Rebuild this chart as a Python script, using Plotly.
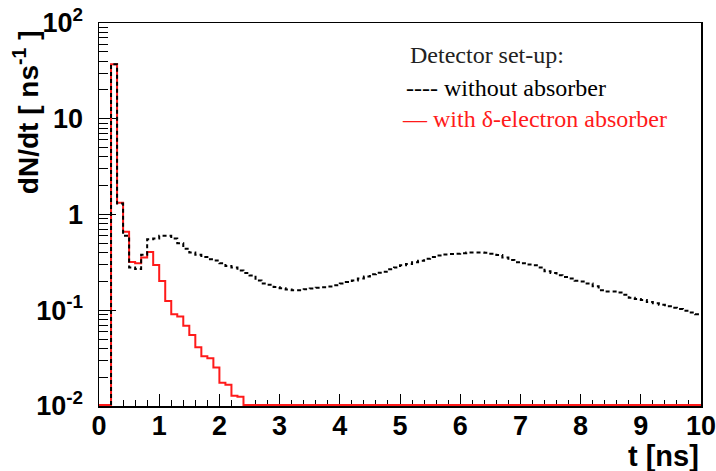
import plotly.graph_objects as go

# bin width 0.1 ns, 0 .. 10 ns
bin_width = 0.1
n_bins = 100

# without absorber (black dashed), one value per 0.1 ns bin
black_values = [
    0.0, 0.0, 37.0, 1.30, 0.60, 0.28, 0.27, 0.38, 0.55, 0.56,
    0.60, 0.60, 0.56, 0.50, 0.44, 0.40, 0.38, 0.36, 0.34, 0.33,
    0.31, 0.29, 0.28, 0.26, 0.245, 0.23, 0.205, 0.19, 0.185, 0.175,
    0.17, 0.165, 0.162, 0.162, 0.166, 0.169, 0.172, 0.174, 0.177, 0.182,
    0.19, 0.197, 0.205, 0.215, 0.225, 0.238, 0.246, 0.252, 0.268, 0.28,
    0.295, 0.305, 0.318, 0.328, 0.345, 0.36, 0.372, 0.382, 0.386, 0.39,
    0.395, 0.40, 0.40, 0.40, 0.398, 0.39, 0.377, 0.355, 0.335, 0.318,
    0.31, 0.30, 0.295, 0.28, 0.255, 0.245, 0.232, 0.222, 0.215, 0.203,
    0.20, 0.19, 0.178, 0.162, 0.157, 0.157, 0.153, 0.145, 0.135, 0.131,
    0.128, 0.122, 0.118, 0.114, 0.11, 0.106, 0.103, 0.099, 0.095, 0.091,
]

# with delta-electron absorber (red solid)
red_values = [
    0.0, 0.0, 37.0, 1.33, 0.66, 0.32, 0.31, 0.355, 0.405, 0.297,
    0.202, 0.125, 0.091, 0.086, 0.069, 0.055, 0.041, 0.033, 0.0315, 0.0253,
    0.0175, 0.0167, 0.0128, 0.0125, 0, 0, 0, 0, 0, 0,
    0, 0, 0, 0, 0, 0, 0, 0, 0, 0,
    0, 0, 0, 0, 0, 0, 0, 0, 0, 0,
    0, 0, 0, 0, 0, 0, 0, 0, 0, 0,
    0, 0, 0, 0, 0, 0, 0, 0, 0, 0,
    0, 0, 0, 0, 0, 0, 0, 0, 0, 0,
    0, 0, 0, 0, 0, 0, 0, 0, 0, 0,
    0, 0, 0, 0, 0, 0, 0, 0, 0, 0,
]

x_tick_vals = [0, 1, 2, 3, 4, 5, 6, 7, 8, 9, 10]
y_tick_vals = [0.01, 0.1, 1, 10, 100]
y_tick_text = ["10<sup>-2</sup>", "10<sup>-1</sup>", "1", "10", "10<sup>2</sup>"]

Y_MIN = 0.01
# empty bins are drawn on the bottom edge of the frame (as ROOT does);
# lift them by one pixel so the line is not clipped away
Y_FLOOR = Y_MIN * 10 ** (1.0 / 95.75)
edges = [i * bin_width for i in range(n_bins + 1)]


def step_xy(values, skip_leading_zeros=False):
    start = 0
    if skip_leading_zeros:
        while start < len(values) and values[start] <= 0:
            start += 1
    xs = edges[start:]
    ys = [v if v > 0 else Y_FLOOR for v in values[start:]]
    ys = ys + [ys[-1]]
    if skip_leading_zeros:
        xs = [edges[start]] + xs
        ys = [Y_FLOOR] + ys
    return xs, ys


rx, ry = step_xy(red_values)
bx, by = step_xy(black_values, skip_leading_zeros=True)

fig = go.Figure()
fig.add_trace(go.Scatter(x=rx, y=ry, mode="lines", line=dict(color="#ff1a1a", width=2, shape="hv"),
                         showlegend=False, hoverinfo="skip"))
fig.add_trace(go.Scatter(x=bx, y=by, mode="lines", line=dict(color="black", width=2, shape="hv", dash="4px,3px"),
                         showlegend=False, hoverinfo="skip"))

minor_y = []
for d in [0.01, 0.1, 1, 10]:
    for k in range(2, 10):
        minor_y.append(d * k)

tickfont = dict(family="Liberation Sans", size=27, color="black", weight="bold")

fig.update_xaxes(
    range=[0, 10], tickvals=x_tick_vals, ticktext=[str(v) for v in x_tick_vals],
    ticks="inside", ticklen=12, tickwidth=1, tickcolor="black",
    minor=dict(ticks="inside", ticklen=6, tickwidth=1, tickcolor="black", dtick=0.2, tick0=0),
    showline=True, linecolor="black", linewidth=1.5, mirror=True,
    showgrid=False, zeroline=False, tickfont=tickfont, ticklabelstandoff=-5,
    ticklabeloverflow="allow", automargin=False, layer="below traces",
)
fig.update_yaxes(
    type="log", range=[-2, 2], tickvals=y_tick_vals, ticktext=y_tick_text,
    ticks="inside", ticklen=17, tickwidth=1, tickcolor="black",
    minor=dict(ticks="inside", ticklen=9, tickwidth=1, tickcolor="black", tickvals=minor_y),
    showline=True, linecolor="black", linewidth=1.5, mirror=True,
    showgrid=False, zeroline=False, tickfont=tickfont, ticklabelstandoff=9,
    ticklabeloverflow="allow", automargin=False, layer="below traces",
)

serif = "Liberation Serif"
fig.update_layout(
    width=716, height=471,
    margin=dict(l=99, r=15, t=23, b=65, autoexpand=False),
    plot_bgcolor="white", paper_bgcolor="white",
    hovermode=False,
    annotations=[
        dict(text="dN/dt [ ns<sup>-1</sup> ]", xref="paper", yref="paper", x=-0.121, y=0.987,
             xanchor="center", yanchor="top", textangle=-90, showarrow=False,
             font=dict(family="Liberation Sans", size=28, color="black", weight="bold")),
        dict(text="t [ns]", xref="paper", yref="paper", x=1.0, y=-0.1305,
             xanchor="right", yanchor="middle", showarrow=False,
             font=dict(family="Liberation Sans", size=29, color="black", weight="bold")),
        dict(text="Detector set-up:", xref="paper", yref="paper", x=0.513, y=0.916,
             xanchor="left", yanchor="middle", showarrow=False,
             font=dict(family=serif, size=24, color="#222222")),
        dict(text="---- without absorber", xref="paper", yref="paper", x=0.506, y=0.830,
             xanchor="left", yanchor="middle", showarrow=False,
             font=dict(family=serif, size=24, color="black")),
        dict(text="— with δ-electron absorber", xref="paper", yref="paper", x=0.500, y=0.749,
             xanchor="left", yanchor="middle", showarrow=False,
             font=dict(family=serif, size=24, color="#ff1a1a")),
    ],
)

fig.write_html(
    "out.html",
    config={"displayModeBar": False, "staticPlot": True},
    post_script="document.body.style.margin='0';document.body.style.overflow='hidden';",
)
